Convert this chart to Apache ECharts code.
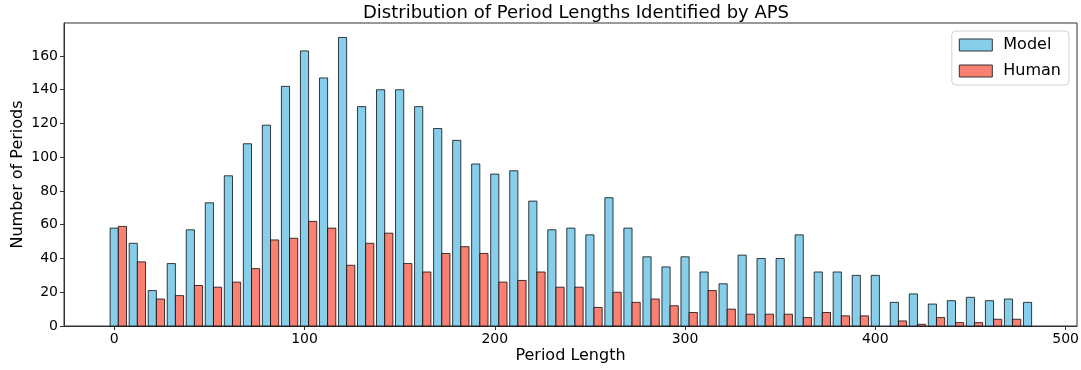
<!DOCTYPE html>
<html>
<head>
<meta charset="utf-8">
<script src="https://cdn.jsdelivr.net/npm/echarts@6/dist/echarts.min.js"></script>
<style>
  html, body { margin: 0; padding: 0; background: #fff; }
  #chart { width: 1081px; height: 370px; }
</style>
</head>
<body>
<div id="chart"></div>
<script>
// bin starts (period length)
var bins = [];
for (var b = 0; b <= 480; b += 10) bins.push(b);

var modelCounts = [58, 49, 21, 37, 57, 73, 89, 108, 119, 142,
                   163, 147, 171, 130, 140, 140, 130, 117, 110, 96,
                   90, 92, 74, 57, 58, 54, 76, 58, 41, 35,
                   41, 32, 25, 42, 40, 40, 54, 32, 32, 30,
                   30, 14, 19, 13, 15, 17, 15, 16, 14];
var humanCounts = [59, 38, 16, 18, 24, 23, 26, 34, 51, 52,
                   62, 58, 36, 49, 55, 37, 32, 43, 47, 43,
                   26, 27, 32, 23, 23, 11, 20, 14, 16, 12,
                   8, 21, 10, 7, 7, 7, 5, 8, 6, 6,
                   0, 3, 1, 5, 2, 2, 4, 4, 0];

var xTicks = [0, 100, 200, 300, 400, 500];
var yTicks = [0, 20, 40, 60, 80, 100, 120, 140, 160];

var BAR_W = 4.3;

function makeData(counts) {
    var out = [];
    for (var i = 0; i < bins.length; i++) out.push([bins[i], counts[i]]);
    return out;
}

function barRenderer(offset, color) {
    return function (params, api) {
        var x = api.value(0) + offset;
        var v = api.value(1);
        if (!v) return null;
        var p0 = api.coord([x - BAR_W / 2, 0]);
        var p1 = api.coord([x + BAR_W / 2, v]);
        return {
            type: 'rect',
            shape: { x: p0[0], y: p1[1], width: p1[0] - p0[0], height: p0[1] - p1[1] },
            style: { fill: color, stroke: 'rgba(0,0,0,0.75)', lineWidth: 1 }
        };
    };
}

var myChart = echarts.init(document.getElementById('chart'));
var font = 'DejaVu Sans';

var option = {
    animation: false,
    title: {
        text: 'Distribution of Period Lengths Identified by APS',
        left: 571,
        textAlign: 'center',
        top: -1,
        textStyle: { fontFamily: font, fontSize: 18, fontWeight: 'normal', color: '#000' }
    },
    legend: {
        orient: 'vertical',
        right: 12,
        top: 31,
        padding: [6, 8, 6, 7],
        itemGap: 10,
        itemWidth: 33,
        itemHeight: 12,
        borderColor: '#d0d0d0',
        borderWidth: 1,
        borderRadius: 4,
        backgroundColor: '#fff',
        textStyle: { fontFamily: font, fontSize: 16, color: '#000', padding: [0, 0, 0, 6] },
        data: [
            { name: 'Model', icon: 'rect', itemStyle: { color: '#87CEEB', borderColor: '#333', borderWidth: 1 } },
            { name: 'Human', icon: 'rect', itemStyle: { color: '#FA8072', borderColor: '#333', borderWidth: 1 } }
        ]
    },
    grid: {
        left: 64, right: 4, top: 23, bottom: 44,
        containLabel: false,
        outerBoundsMode: 'none',
        show: true, borderColor: '#333', borderWidth: 1
    },
    xAxis: {
        type: 'value',
        min: -26.4,
        max: 506,
        name: 'Period Length',
        nameLocation: 'middle',
        nameGap: 22,
        nameMoveOverlap: false,
        nameTextStyle: { fontFamily: font, fontSize: 16, color: '#000' },
        splitLine: { show: false },
        axisLine: { show: true, onZero: false, lineStyle: { color: '#333' } },
        axisTick: { show: true, length: 4, customValues: xTicks, lineStyle: { color: '#333' } },
        axisLabel: { customValues: xTicks, fontFamily: font, fontSize: 14, color: '#000', margin: 6 }
    },
    yAxis: {
        type: 'value',
        min: 0,
        max: 179.55,
        name: 'Number of Periods',
        nameLocation: 'middle',
        nameGap: 38,
        nameMoveOverlap: false,
        nameTextStyle: { fontFamily: font, fontSize: 16, color: '#000' },
        splitLine: { show: false },
        axisLine: { show: true, onZero: false, lineStyle: { color: '#333' } },
        axisTick: { show: true, length: 4, customValues: yTicks, lineStyle: { color: '#333' } },
        axisLabel: { customValues: yTicks, fontFamily: font, fontSize: 14, color: '#000', margin: 6 }
    },
    series: [
        {
            name: 'Model',
            type: 'custom',
            itemStyle: { color: '#87CEEB' },
            renderItem: barRenderer(0, '#87CEEB'),
            encode: { x: 0, y: 1 },
            data: makeData(modelCounts)
        },
        {
            name: 'Human',
            type: 'custom',
            itemStyle: { color: '#FA8072' },
            renderItem: barRenderer(BAR_W, '#FA8072'),
            encode: { x: 0, y: 1 },
            data: makeData(humanCounts)
        }
    ]
};

myChart.setOption(option);
</script>
</body>
</html>
